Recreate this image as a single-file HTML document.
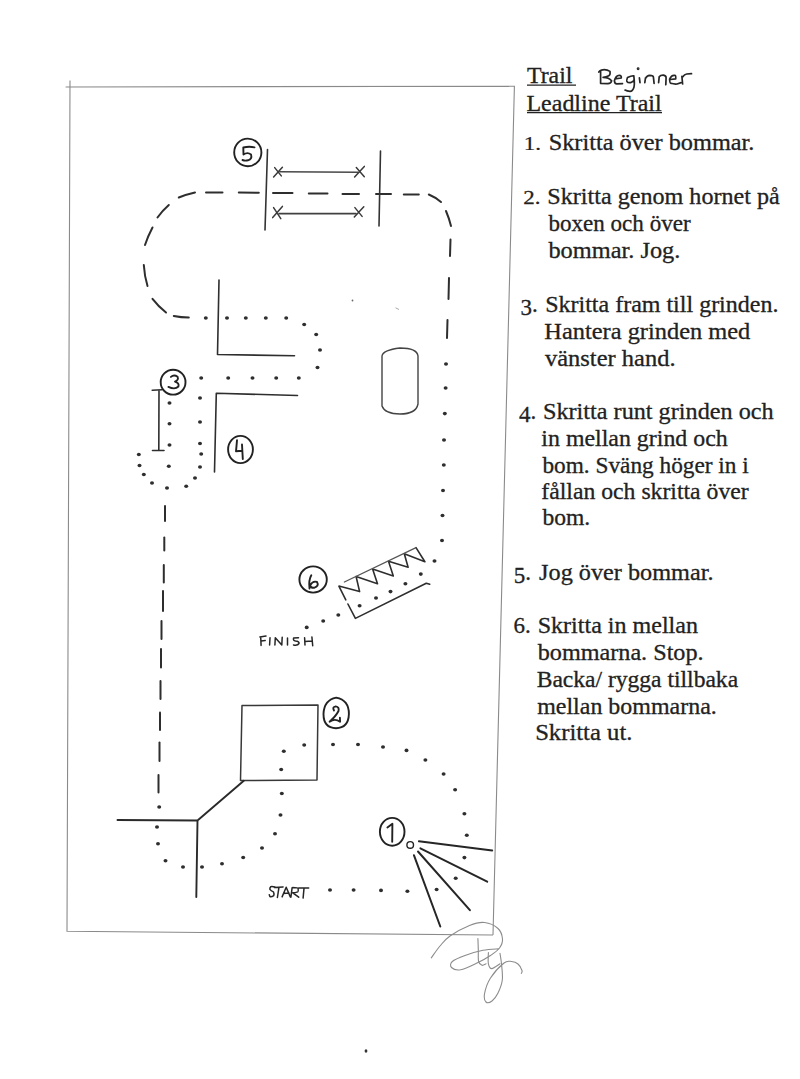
<!DOCTYPE html>
<html><head><meta charset="utf-8">
<style>
html,body{margin:0;padding:0;background:#fff;}
body{width:800px;height:1079px;overflow:hidden;position:relative;}
svg{position:absolute;left:0;top:0;}
.t{font-family:"Liberation Serif",serif;font-size:22px;fill:#222;}
</style></head><body>
<svg width="800" height="1079" viewBox="0 0 800 1079">
<g fill="none" stroke="#8a8a8a" stroke-width="1.1">
<path d="M65.6 87 L514.4 86.2 L493 935"/>
<path d="M70 80.6 L67 931.3 L493 935"/>
</g>
<g fill="none" stroke="#2e2e2e" stroke-width="2" stroke-linecap="round">
<path d="M173.8 316 Q181 317.5 188.8 317.5"/>
<path d="M152.5 298.8 Q158 306 166 312.5"/>
<path d="M143.8 265 Q144.5 276 147.5 286"/>
<path d="M145 245 Q148 236 152.5 227.5"/>
<path d="M157.5 217.5 Q162 211 168.8 205"/>
<path d="M178.8 197.5 Q186 194.5 195 192.5"/>
<line x1="206" y1="192.5" x2="222.5" y2="192.5"/>
<line x1="238.8" y1="192.5" x2="258.8" y2="192.8"/>
<line x1="273" y1="193" x2="292.5" y2="193"/>
<line x1="308.8" y1="193.5" x2="327.5" y2="193.5"/>
<line x1="342.5" y1="194" x2="359" y2="194"/>
<line x1="376" y1="194" x2="391" y2="194"/>
<line x1="403.8" y1="194.5" x2="418.8" y2="194.5"/>
<path d="M428.8 194.5 Q435 197 441 202"/>
<path d="M446 211 Q449 218 451 226"/>
<line x1="450.5" y1="239.5" x2="450" y2="256"/>
<line x1="449" y1="278" x2="448.5" y2="299"/>
<line x1="447.5" y1="320" x2="447" y2="338"/>
<line x1="165" y1="506" x2="165" y2="521"/>
<line x1="164.3" y1="537.5" x2="164.3" y2="550.5"/>
<line x1="163.8" y1="565" x2="163.8" y2="582.5"/>
<line x1="163" y1="591" x2="163" y2="611"/>
<line x1="161.5" y1="621" x2="161.5" y2="639"/>
<line x1="161" y1="649" x2="161" y2="667.5"/>
<line x1="160.5" y1="681" x2="160.5" y2="699"/>
<line x1="160" y1="712.5" x2="160" y2="730"/>
<line x1="159.5" y1="742.5" x2="159.5" y2="761"/>
<line x1="158.5" y1="775" x2="158.5" y2="792.5"/>
</g>
<g fill="#2e2e2e">
<ellipse cx="446" cy="364" rx="2" ry="1.8"/>
<ellipse cx="445.6" cy="388" rx="2" ry="1.8"/>
<ellipse cx="444.8" cy="413.6" rx="2" ry="1.8"/>
<ellipse cx="444" cy="440" rx="2" ry="1.8"/>
<ellipse cx="443.8" cy="465" rx="2" ry="1.8"/>
<ellipse cx="443" cy="490.5" rx="2" ry="1.8"/>
<ellipse cx="442.5" cy="515.5" rx="2" ry="1.8"/>
<ellipse cx="442" cy="540.5" rx="2" ry="1.8"/>
<ellipse cx="434.5" cy="561" rx="2" ry="1.8"/>
<ellipse cx="420.8" cy="574.1" rx="2" ry="1.8"/>
<ellipse cx="405.4" cy="583.7" rx="2" ry="1.8"/>
<ellipse cx="390.5" cy="591.6" rx="2" ry="1.8"/>
<ellipse cx="376" cy="598" rx="2" ry="1.8"/>
<ellipse cx="359.6" cy="605.7" rx="2" ry="1.8"/>
<ellipse cx="338.3" cy="615" rx="2" ry="1.8"/>
<ellipse cx="323.2" cy="621" rx="2" ry="1.8"/>
<ellipse cx="306.7" cy="627.4" rx="2" ry="1.8"/>
<ellipse cx="205.8" cy="318" rx="2" ry="1.8"/>
<ellipse cx="227" cy="318" rx="2" ry="1.8"/>
<ellipse cx="245.8" cy="318" rx="2" ry="1.8"/>
<ellipse cx="265.8" cy="318" rx="2" ry="1.8"/>
<ellipse cx="286.2" cy="318" rx="2" ry="1.8"/>
<ellipse cx="304.2" cy="324.5" rx="2" ry="1.8"/>
<ellipse cx="316.2" cy="334.5" rx="2" ry="1.8"/>
<ellipse cx="320" cy="350" rx="2" ry="1.8"/>
<ellipse cx="317.5" cy="367.5" rx="2" ry="1.8"/>
<ellipse cx="201.2" cy="378" rx="2" ry="1.8"/>
<ellipse cx="228.2" cy="378" rx="2" ry="1.8"/>
<ellipse cx="252.5" cy="378" rx="2" ry="1.8"/>
<ellipse cx="276.2" cy="378" rx="2" ry="1.8"/>
<ellipse cx="298.8" cy="378" rx="2" ry="1.8"/>
<ellipse cx="200" cy="398" rx="2" ry="1.8"/>
<ellipse cx="200" cy="422" rx="2" ry="1.8"/>
<ellipse cx="200" cy="443.5" rx="2" ry="1.8"/>
<ellipse cx="201.2" cy="454" rx="2" ry="1.8"/>
<ellipse cx="200" cy="467" rx="2" ry="1.8"/>
<ellipse cx="195" cy="478" rx="2" ry="1.8"/>
<ellipse cx="186.2" cy="486.2" rx="2" ry="1.8"/>
<ellipse cx="167" cy="488" rx="2" ry="1.8"/>
<ellipse cx="152" cy="483" rx="2" ry="1.8"/>
<ellipse cx="143.8" cy="474.5" rx="2" ry="1.8"/>
<ellipse cx="139.5" cy="465.5" rx="2" ry="1.8"/>
<ellipse cx="138.8" cy="454.5" rx="2" ry="1.8"/>
<ellipse cx="169.5" cy="403" rx="2" ry="1.8"/>
<ellipse cx="169.5" cy="423.8" rx="2" ry="1.8"/>
<ellipse cx="169.5" cy="445" rx="2" ry="1.8"/>
<ellipse cx="168.8" cy="466.2" rx="2" ry="1.8"/>
<ellipse cx="159.2" cy="807" rx="2" ry="1.8"/>
<ellipse cx="157" cy="827" rx="2" ry="1.8"/>
<ellipse cx="158" cy="843.8" rx="2" ry="1.8"/>
<ellipse cx="165.5" cy="860.8" rx="2" ry="1.8"/>
<ellipse cx="183" cy="867" rx="2" ry="1.8"/>
<ellipse cx="202" cy="867" rx="2" ry="1.8"/>
<ellipse cx="222" cy="863.8" rx="2" ry="1.8"/>
<ellipse cx="243.2" cy="857.5" rx="2" ry="1.8"/>
<ellipse cx="262" cy="848" rx="2" ry="1.8"/>
<ellipse cx="275" cy="833.8" rx="2" ry="1.8"/>
<ellipse cx="280.5" cy="815" rx="2" ry="1.8"/>
<ellipse cx="281.8" cy="793.5" rx="2" ry="1.8"/>
<ellipse cx="281.2" cy="769.5" rx="2" ry="1.8"/>
<ellipse cx="283.8" cy="751.2" rx="2" ry="1.8"/>
<ellipse cx="304.2" cy="745" rx="2" ry="1.8"/>
<ellipse cx="333" cy="744.5" rx="2" ry="1.8"/>
<ellipse cx="358" cy="744.5" rx="2" ry="1.8"/>
<ellipse cx="383" cy="747" rx="2" ry="1.8"/>
<ellipse cx="406.5" cy="750.4" rx="2" ry="1.8"/>
<ellipse cx="425.4" cy="760" rx="2" ry="1.8"/>
<ellipse cx="443.6" cy="774" rx="2" ry="1.8"/>
<ellipse cx="455.1" cy="789.7" rx="2" ry="1.8"/>
<ellipse cx="464.4" cy="813.8" rx="2" ry="1.8"/>
<ellipse cx="466.8" cy="835.3" rx="2" ry="1.8"/>
<ellipse cx="464.4" cy="857.6" rx="2" ry="1.8"/>
<ellipse cx="455.7" cy="878.3" rx="2" ry="1.8"/>
<ellipse cx="436.6" cy="889.5" rx="2" ry="1.8"/>
<ellipse cx="407.4" cy="891.3" rx="2" ry="1.8"/>
<ellipse cx="381" cy="890.4" rx="2" ry="1.8"/>
<ellipse cx="353.6" cy="890" rx="2" ry="1.8"/>
<ellipse cx="330" cy="890" rx="2" ry="1.8"/>
</g>
<g fill="none" stroke="#2e2e2e" stroke-width="1.6" stroke-linecap="round" stroke-linejoin="round">
<path stroke="#333" d="M267.5 149.5 L265 230"/>
<path stroke="#333" d="M380.5 151 L379 226"/>
<path stroke="#484848" stroke-width="1.4" d="M279.7 171.7 L358 172.3"/>
<path stroke="#404040" stroke-width="1.7" d="M279.1 213.7 L356 213.7"/>
<path stroke="#3a3a3a" stroke-width="1.5" d="M274.7 167.6 L281.3 175.9 M282.4 167.3 L273.6 177 M273.6 207.6 L280.8 218.7 M282.4 206.4 L272.7 217.6 M356.3 167.6 L364.3 176.7 M364.3 166.4 L354.6 177 M354.9 207.6 L362.1 216.4 M363.8 206.7 L354.3 217"/>
<path d="M219 280 L217.5 354.5 L294.5 355.8"/>
<path d="M297.5 395.5 L216.3 393.3 L214.5 472"/>
<path d="M159 390 L158.8 450.5 M152.2 390.3 L161.9 389.7 M152.5 450.5 L164 450.5"/>
<path stroke="#444" stroke-width="1.4" d="M382 356 Q383 350 400 348 Q417 348 418 356 L418 404 Q416 414 400 414 Q385 414 382 406 Z"/>
<path stroke="#383838" stroke-width="1.5" d="M242 705.5 L318 705 L317 780 L240.5 780.5 Z"/>
<path stroke="#2a2a2a" stroke-width="1.9" d="M117.5 820 L197.5 820.5 L196.3 897 M197.5 820.5 L243.8 780.8"/>
<path stroke-width="2" stroke="#262626" d="M418.9 841.3 L492.2 850.5 M420.4 848.3 L487.2 881.7 M418 851.5 L469.9 910.2 M413.9 855.2 L440.3 926.5"/>
<path d="M345.8 599.8 L338.9 586.1 L359.6 591.6 L356.1 576.5 L377.5 583.7 L372.6 568.9 L393.3 576 L388.5 561.3 L408.1 567.2 L404.3 553.8 L424.9 561.7 L416 547.6"/>
<path stroke="#555" stroke-width="1.3" d="M416 547.6 L344.4 582"/>
<path d="M347.9 604 L355.4 618.4 L426.3 583.3 L429.7 584.3"/>
</g>
<g fill="none" stroke="#222" stroke-width="1.9" stroke-linecap="round" stroke-linejoin="round">
<ellipse cx="247.8" cy="152.4" rx="13.6" ry="13.8"/>
<path d="M243.3 147.5 Q249 146 254.5 147.3 M243.3 147.5 L243.5 154.5 Q247.5 151.8 251 154.5 Q252.5 159 248 160.3 Q245 161 242.5 160"/>
<ellipse cx="173.1" cy="382.2" rx="12.4" ry="12.4"/>
<path d="M170.9 376.9 Q174 374.2 177.6 376.8 Q179 380 175 381.6 Q179.5 383 178.4 386.5 Q175 390 168.4 386.9"/>
<ellipse cx="240.5" cy="449.5" rx="12.4" ry="13.6"/>
<path d="M237 440.3 L236 451.3 L242 450.8 M242 444.5 L242.8 459"/>
<ellipse cx="313.1" cy="579.5" rx="13.7" ry="13.1"/>
<path d="M311.3 575.3 Q308.5 580 309.5 588.5 M310.3 585 Q313 580.5 317 582 Q319.5 586 314 587.8 Q311 588 310.5 586"/>
<path d="M336.2 697.6 Q349 700 348.9 714 Q348.5 728 336 728.2 Q323.5 728 323.5 714 Q324 700 336.2 697.6 Z"/>
<path d="M334 710.5 Q332 707 335.7 706.4 Q339.5 707 338.5 711 Q336 716 329.6 721.7 Q335 718 340.1 721.7 L339.9 717.7"/>
<ellipse cx="392.2" cy="831.8" rx="12.3" ry="13.9"/>
<path d="M387.4 827.5 L392.4 823.8 L392.2 841.8"/>
<circle cx="410.2" cy="844.9" r="3.3" stroke-width="1.4"/>
</g>
<g fill="none" stroke="#262626" stroke-width="1.5" stroke-linecap="round" stroke-linejoin="round">
<path d="M260.7 636.9 L261.1 645.4 M259.9 636.9 L266 636.1 M261.1 641 L265.2 640.6 M270 637.7 L269.6 645 M274.9 645 L275.3 637.7 L281.8 645 L282.2 637.3 M287.5 638.1 L287.5 645 M298.5 637.7 L293.6 638.1 Q292.8 640.6 295.5 641 Q299.5 641.4 299 643.5 Q297.5 646 293.5 645 M304.6 637.7 L305 645 M311.9 636.9 L312.7 645.8 M305 641.4 L311.9 641"/>
<path d="M274.9 886.9 Q272 886.2 270.9 886.6 Q269.5 888 269.9 889.4 Q271 891 273.4 891.9 Q274.5 894 273.7 895.6 Q271.5 897.2 269.9 896.6 L269.3 894.7 M274.3 887.5 L283.1 886.9 M279 887.2 L277.4 897.5 M282.1 896.9 L286.2 887.2 L290.3 896.9 M283.4 893.4 L289 893.1 M292.1 887.8 L290.9 897.2 M292.8 887.5 Q298 887.5 298.1 888.5 Q298.5 891.5 297.8 891.9 Q295 892.8 292.8 892.8 L298.7 897.2 M298.7 888.1 L308.7 888.1 M304 888.4 L303.1 898.1"/>
</g>
<g fill="none" stroke="#8c8c8c" stroke-width="1.1" stroke-linecap="round">
<path d="M431.3 957.8 C432.8 955.8 436.9 949.6 440 946 C443.1 942.4 445.1 939.4 450 936 C454.9 932.6 463.8 927.8 469.5 925.5 C475.2 923.2 479.8 922 484.5 922.5 C489.2 923 495 925.8 498 928.5 C501 931.2 502.2 935.8 502.5 939 C502.8 942.2 501.5 945.2 499.5 948 C497.5 950.8 494.2 953 490.5 955.5 C486.8 958 482 960.6 477 963 C472 965.4 464.8 969 460.5 969.8 C456.2 970.5 452.9 968.9 451.5 967.5 C450.1 966.1 450.1 963.5 452.3 961.5 C454.6 959.5 459.9 957.4 465 955.5 C470.1 953.6 477.4 951.4 483 950.3 C488.6 949.2 495.9 949 498.5 948.8"/>
<path d="M477.9 938.6 C478 940.5 478.2 946.2 478.3 950 C478.4 953.8 478 959 478.6 961.5 C479.2 964 480.8 964.9 482 965.3 C483.2 965.7 485.4 964 486.1 963.8"/>
<path d="M488.4 952.5 C488.4 954.4 487.8 961.1 488.4 963.8 C489 966.5 489.9 968.6 491.8 968.6 C493.7 968.6 498.6 964.6 500 963.8"/>
<path d="M500 953.3 C500.2 955 501.1 959.3 501.5 963.8 C501.9 968.2 502.9 975.1 502.3 980 C501.7 984.9 499.7 989.5 498 993 C496.3 996.5 494 999.5 492 1001 C490 1002.5 487.2 1003.2 486 1002 C484.8 1000.8 483.8 998 484.5 994 C485.2 990 487.2 983.2 490.5 978 C493.8 972.8 500.5 965.8 504 963 C507.5 960.2 509.2 961.3 511.5 961.5 C513.8 961.7 516.2 962.5 518 964 C519.8 965.5 521.5 968.9 522 970.5 C522.5 972.1 521.4 973 521.3 973.5"/>
</g>
<ellipse cx="366" cy="1051" rx="1.4" ry="1.8" fill="#333"/>
<circle cx="352.5" cy="300.5" r="0.9" fill="#666"/>
<path d="M395.5 307.8 L399 309.5" stroke="#aaa" stroke-width="1"/>
<g style="font-family:'Liberation Serif',serif;font-size:23px" fill="#222" stroke="#222" stroke-width="0.3">
<text transform="translate(527.00 83.20) scale(1.0341 1.000)">Trail</text>
<text transform="translate(526.46 110.50) scale(1.0430 1.000)">Leadline Trail</text>
<text transform="translate(523.70 149.90) scale(1.0000 0.780)">1.</text>
<text transform="translate(548.69 149.90) scale(1.0565 1.000)">Skritta över bommar.</text>
<text transform="translate(523.20 203.80) scale(1.0000 0.850)">2.</text>
<text transform="translate(547.35 203.80) scale(1.0491 1.000)">Skritta genom hornet på</text>
<text transform="translate(548.40 230.90) scale(1.0035 1.000)">boxen och över</text>
<text transform="translate(548.40 258.00) scale(1.0593 1.000)">bommar. Jog.</text>
<text transform="translate(520.60 315.10)"><tspan>3</tspan><tspan dy="-3.0">.</tspan></text>
<text transform="translate(545.16 312.10) scale(1.0439 1.000)">Skritta fram till grinden.</text>
<text transform="translate(544.34 338.80) scale(1.0611 1.000)">Hantera grinden med</text>
<text transform="translate(545.00 365.50) scale(1.0645 1.000)">vänster hand.</text>
<text transform="translate(519.10 422.20)"><tspan>4</tspan><tspan dy="-3.2">.</tspan></text>
<text transform="translate(542.95 419.00) scale(1.0532 1.000)">Skritta runt grinden och</text>
<text transform="translate(541.36 445.60) scale(1.0388 1.000)">in mellan grind och</text>
<text transform="translate(542.40 472.90) scale(1.0132 1.000)">bom. Sväng höger in i</text>
<text transform="translate(541.37 498.80) scale(1.0310 1.000)">fållan och skritta över</text>
<text transform="translate(542.40 524.75) scale(1.0244 1.000)">bom.</text>
<text transform="translate(513.75 582.90)"><tspan>5</tspan><tspan dy="-3.0">.</tspan></text>
<text transform="translate(539.10 579.90) scale(1.0543 1.000)">Jog över bommar.</text>
<text transform="translate(513.40 633.10) scale(1.0000 1.000)">6.</text>
<text transform="translate(537.70 633.10) scale(1.0464 1.000)">Skritta in mellan</text>
<text transform="translate(537.70 660.40) scale(1.0519 1.000)">bommarna. Stop.</text>
<text transform="translate(536.68 686.80) scale(1.0250 1.000)">Backa/ rygga tillbaka</text>
<text transform="translate(537.20 713.80) scale(1.0421 1.000)">mellan bommarna.</text>
<text transform="translate(535.13 740.30) scale(1.0727 1.000)">Skritta ut.</text>
</g><g stroke="#222" stroke-width="1.3">
<line x1="527" y1="85.2" x2="576" y2="85.2"/>
<line x1="527" y1="112.7" x2="662" y2="112.7"/>
</g>
<g fill="none" stroke="#262626" stroke-width="1.7" stroke-linecap="round" stroke-linejoin="round">
<path d="M600.6 70.8 L600.6 83.3 M598.8 72 Q600 70.2 601.3 70.1 Q606 68.8 610 71.4 Q610.5 75 608.8 75.8 Q606 77.3 603.1 77.3 Q609 77.3 611.6 80.8 Q611 83.8 607.5 83.6 L600.6 83.3"/>
<path d="M615 78.9 L621.3 78 Q621.5 75.5 619.4 75.4 Q615.8 75.2 614.4 80.8 Q614.8 84 616.9 83.9 L622.5 83.6"/>
<path d="M633.8 75.8 Q631.9 75.4 627.5 77.6 Q626.4 81 626.9 81.4 Q628 83 630.6 82.6 Q633.5 81.5 633.8 80.1 M633.8 75.8 Q634.8 84 634 87 Q632.8 91.4 630 91.4 Q627 91.2 625 90.1"/>
<path d="M639.4 77.9 L640 82.6"/>
<circle cx="638.1" cy="68.7" r="0.6"/>
<path d="M645.5 77.8 L644.8 82.6 M645.5 78.5 Q647 75.4 649.6 75.4 Q653.4 75.6 653.4 77.1 L654.1 83.3"/>
<path d="M658.6 82.6 L659.2 76.8 Q660.5 75 663.4 75.1 Q666.3 75.8 666.1 77.8 L665.8 84.7"/>
<path d="M670.2 79.5 L675.7 78.8 Q676 75.5 675 75.4 Q671.6 74.6 669.6 79.2 Q669.8 83.3 670.9 83.3 Q674 84.3 677.1 84 L681.2 82.6"/>
<path d="M681.9 76.4 L682.6 84 M682.6 77.1 Q684.5 74.3 686.7 74 L691.5 73.7"/>
</g>

</svg>
</body></html>
